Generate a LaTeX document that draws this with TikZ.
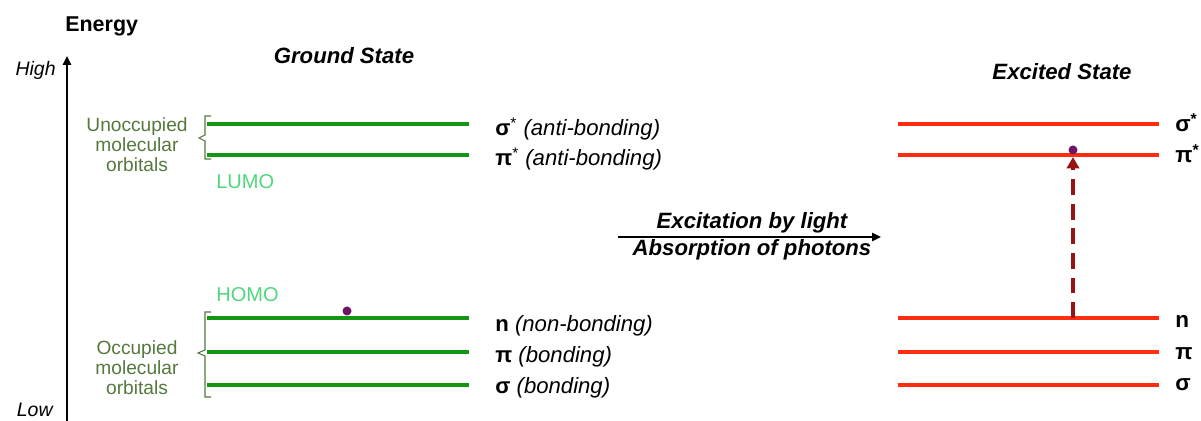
\documentclass[tikz,border=0pt]{standalone}
\usepackage{fontspec}
\setmainfont{Liberation Sans}
\usetikzlibrary{arrows.meta}
\definecolor{gline}{RGB}{20,150,20}
\definecolor{olive}{RGB}{85,120,60}
\definecolor{lgreen}{RGB}{80,215,125}
\definecolor{rline}{RGB}{255,45,15}
\definecolor{darr}{RGB}{150,20,20}
\definecolor{edot}{RGB}{110,20,100}
\begin{document}
\begin{tikzpicture}[x=0.02cm,y=-0.02cm,
  lvlg/.style={draw=gline,line width=1.9pt},
  lvlr/.style={draw=rline,line width=1.9pt},
  brk/.style={draw=olive,line width=0.6pt},
  lbl/.style={anchor=base west,inner sep=0pt,font=\fontsize{12.6}{14}\selectfont},
  rlbl/.style={anchor=base west,inner sep=0pt,font=\fontsize{12.8}{14}\selectfont\bfseries},
  grp/.style={anchor=base,inner sep=0pt,text=olive,font=\fontsize{10.9}{12}\selectfont},
  homo/.style={anchor=base west,inner sep=0pt,text=lgreen,font=\fontsize{11.4}{13}\selectfont},
  ttl/.style={anchor=base,inner sep=0pt,font=\fontsize{12.6}{14}\selectfont\bfseries\itshape},
  edotst/.style={circle,fill=edot,inner sep=0pt,minimum size=9*0.02cm}]
\useasboundingbox (0,0) rectangle (1201,421);
% axis
\coordinate (axb) at (67,421);
\coordinate (axt) at (67,56);
\draw[line width=1.6pt,-{Triangle[length=5pt,width=4.5pt]}] (axb) -- (axt);
\node[anchor=base west,inner sep=0pt,font=\fontsize{12.2}{14}\selectfont\bfseries] (energy) at (65,32) {Energy};
\node[anchor=base east,inner sep=0pt,font=\fontsize{11.1}{13}\selectfont\itshape] (high) at (56,76) {High};
\node[anchor=base east,inner sep=0pt,font=\fontsize{11.1}{13}\selectfont\itshape] (low) at (53,417) {Low};
% titles
\node[ttl] (gs) at (344,64) {Ground State};
\node[ttl] (es) at (1062,80) {Excited State};
% ground state levels
\foreach \n/\y in {gss/124,gps/155,gn/318,gp/352,gsg/385}{
  \coordinate (\n a) at (207,\y);
  \coordinate (\n b) at (469,\y);
  \draw[lvlg] (\n a) -- (\n b);
}
% excited state levels
\foreach \n/\y in {ess/124,eps/155,en/318,ep/352,esg/385}{
  \coordinate (\n a) at (898,\y);
  \coordinate (\n b) at (1159,\y);
  \draw[lvlr] (\n a) -- (\n b);
}
% left labels
\node[lbl] (lss) at (495,136) {\textbf{σ}\textsuperscript{*} \textit{(anti-bonding)}};
\node[lbl] (lps) at (495,166) {\textbf{π}\textsuperscript{*} \textit{(anti-bonding)}};
\node[lbl] (ln) at (495,332) {\textbf{n} \textit{(non-bonding)}};
\node[lbl] (lp) at (495,363) {\textbf{π} \textit{(bonding)}};
\node[lbl] (lsg) at (495,394) {\textbf{σ} \textit{(bonding)}};
% right labels
\node[rlbl] (rss) at (1175,132) {σ\textsuperscript{*}};
\node[rlbl] (rps) at (1175,163) {π\textsuperscript{*}};
\node[rlbl] (rn) at (1175,328) {n};
\node[rlbl] (rp) at (1175,360) {π};
\node[rlbl] (rsg) at (1175,391) {σ};
% brackets
\draw[brk] (211,116) -- (205,116) -- (205,135) -- (199,138) -- (205,141) -- (205,159) -- (211,159);
\draw[brk] (211,312) -- (205,312) -- (205,350) -- (198,353) -- (205,356) -- (205,397) -- (211,397);
\node[grp] (u1) at (137,132) {Unoccupied};
\node[grp] (u2) at (137,152) {molecular};
\node[grp] (u3) at (137,172) {orbitals};
\node[grp] (o1) at (137,355) {Occupied};
\node[grp] (o2) at (137,375) {molecular};
\node[grp] (o3) at (137,395) {orbitals};
\node[homo] (lumo) at (216,189) {LUMO};
\node[homo] (homo) at (216,302) {HOMO};
% electrons
\node[edotst] (e1) at (347,311) {};
\node[edotst] (e2) at (1073,150) {};
% excitation arrow
\coordinate (xa) at (618,237);
\coordinate (xb) at (881,237);
\draw[line width=1.2pt,-{Triangle[length=5pt,width=4.5pt]}] (xa) -- (xb);
\node[ttl] (exc) at (752,229) {Excitation by light};
\node[ttl] (abs) at (752,256) {Absorption of photons};
% dashed transition
\coordinate (da) at (1073,318);
\coordinate (db) at (1073,157);
\draw[draw=darr,line width=2.2pt,dash pattern=on 9pt off 5pt,-{Triangle[length=6.5pt,width=7pt]}] (da) -- (db);
\end{tikzpicture}
\end{document}
